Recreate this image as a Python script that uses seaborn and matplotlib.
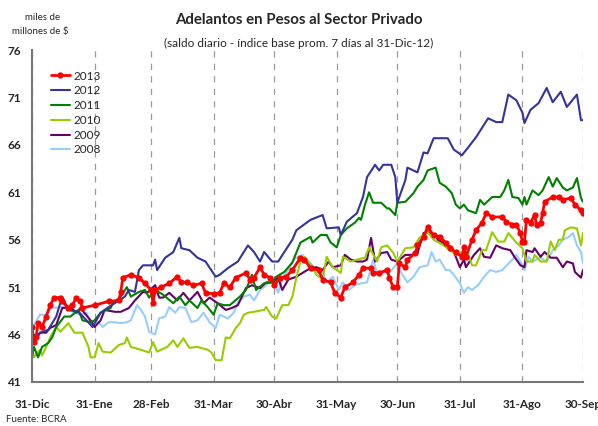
import pandas as pd
import seaborn as sns
from matplotlib import pyplot as plt

# x = days since 31-Dec of previous year
tick_days = [0, 31, 59, 90, 120, 151, 181, 212, 243, 273]
tick_labels = ['31-Dic', '31-Ene', '28-Feb', '31-Mar', '30-Abr', '31-May',
               '30-Jun', '31-Jul', '31-Ago', '30-Sep']

days_2013 = [0, 1, 2, 3, 5, 7, 9, 11, 14, 15,
             18, 20, 22, 24, 25, 31, 38, 43, 44, 45,
             49, 53, 56, 59, 60, 61, 64, 68, 72, 74,
             77, 80, 84, 86, 90, 93, 95, 98, 101, 106,
             108, 110, 113, 115, 118, 120, 123, 126, 129, 133,
             135, 138, 142, 144, 148, 150, 153, 155, 159, 162,
             164, 168, 169, 172, 176, 177, 179, 181, 182, 185,
             186, 190, 191, 194, 196, 199, 202, 205, 207, 210,
             213, 214, 215, 218, 220, 223, 225, 228, 233, 235,
             238, 240, 242, 243, 244, 245, 247, 249, 250, 252,
             253, 254, 258, 261, 263, 267, 269, 272, 273]
vals_2013 = [46.8, 45.2, 45.7, 47.2, 46.8, 47.9, 49.1, 49.9, 49.9, 49.5,
             48.8, 49.1, 49.9, 49.5, 48.8, 49.1, 49.5, 49.6, 50.5, 52.0,
             52.3, 52.0, 51.4, 50.7, 49.3, 50.7, 51.0, 51.4, 52.1, 51.5,
             51.5, 51.2, 51.4, 50.4, 50.3, 50.4, 51.4, 51.0, 52.0, 52.5,
             51.8, 52.0, 53.1, 52.3, 52.0, 51.2, 52.0, 52.1, 52.8, 54.1,
             53.9, 53.0, 52.8, 51.8, 51.5, 50.4, 49.9, 51.0, 51.5, 52.3,
             53.0, 53.0, 52.5, 52.5, 52.8, 52.0, 51.0, 51.0, 53.5, 53.1,
             53.9, 54.6, 55.4, 56.3, 57.3, 56.5, 56.3, 55.7, 55.1, 54.7,
             54.2, 55.2, 54.2, 56.0, 57.0, 57.8, 58.8, 58.4, 58.4, 57.9,
             57.6, 57.6, 56.7, 55.8, 55.8, 58.1, 57.8, 58.6, 57.6, 57.8,
             58.8, 60.0, 60.5, 60.5, 60.2, 60.4, 59.7, 59.1, 58.8]

days_2012 = [0, 1, 4, 8, 12, 15, 18, 23, 27, 30,
             34, 38, 46, 48, 51, 53, 55, 60, 61, 62,
             66, 70, 73, 74, 78, 82, 86, 91, 93, 97,
             102, 107, 110, 113, 115, 119, 122, 125, 129, 131,
             138, 144, 146, 152, 153, 156, 161, 164, 166, 170,
             172, 174, 178, 180, 181, 185, 186, 191, 194, 196,
             199, 206, 209, 213, 216, 220, 226, 230, 233, 236,
             240, 243, 244, 247, 251, 255, 258, 262, 265, 270,
             272, 273]
vals_2012 = [45.5, 45.1, 46.2, 46.5, 47.9, 50.0, 48.6, 48.4, 47.5, 46.8,
             48.3, 48.9, 50.0, 50.7, 50.5, 52.8, 53.3, 53.3, 53.9, 52.8,
             54.1, 54.7, 56.2, 55.1, 54.9, 54.1, 53.7, 52.1, 52.3, 53.0,
             53.7, 55.4, 54.7, 53.7, 54.7, 53.7, 53.7, 54.7, 56.0, 57.0,
             58.1, 58.6, 57.2, 57.3, 56.5, 57.9, 58.8, 60.5, 62.6, 63.9,
             63.3, 63.9, 63.9, 62.6, 59.9, 62.3, 63.6, 63.1, 65.2, 65.1,
             66.7, 66.7, 65.5, 64.9, 65.7, 66.8, 68.8, 68.4, 68.4, 71.3,
             70.7, 69.4, 68.3, 69.7, 70.4, 72.0, 70.5, 71.6, 70.0, 71.3,
             68.6, 68.6]

days_2011 = [0, 1, 3, 5, 8, 10, 12, 16, 19, 23,
             25, 29, 31, 34, 39, 40, 44, 47, 49, 53,
             56, 58, 61, 65, 70, 73, 76, 78, 82, 84,
             87, 90, 92, 95, 98, 103, 106, 109, 111, 115,
             119, 121, 125, 129, 133, 138, 139, 143, 146, 148,
             151, 153, 156, 160, 162, 163, 165, 167, 169, 173,
             176, 177, 180, 181, 185, 189, 191, 194, 196, 200,
             202, 205, 208, 210, 212, 214, 216, 220, 222, 224,
             228, 232, 234, 236, 238, 241, 243, 244, 245, 248,
             251, 253, 256, 258, 260, 263, 265, 268, 270, 272,
             273]
vals_2011 = [43.6, 44.7, 43.6, 44.7, 45.1, 45.7, 46.8, 47.9, 47.9, 48.6,
             47.5, 47.3, 47.5, 48.3, 48.8, 49.3, 50.0, 51.0, 50.0, 50.5,
             50.7, 49.9, 50.7, 50.2, 49.3, 50.0, 49.1, 49.6, 48.8, 49.6,
             48.9, 48.1, 49.3, 49.1, 49.1, 50.0, 50.7, 52.3, 50.7, 51.4,
             51.5, 52.1, 52.6, 53.6, 55.7, 56.3, 55.7, 56.5, 56.5, 55.7,
             55.2, 56.5, 57.2, 57.8, 58.3, 58.1, 59.7, 61.0, 59.9, 59.9,
             59.3, 59.3, 58.6, 59.9, 60.0, 60.9, 61.6, 62.3, 63.3, 63.6,
             62.0, 61.6, 60.9, 59.7, 59.3, 59.7, 59.1, 58.8, 60.2, 59.7,
             60.5, 60.5, 61.2, 62.3, 60.5, 60.4, 59.7, 60.5, 59.7, 61.2,
             60.7, 61.2, 62.6, 61.6, 62.5, 61.5, 61.2, 61.5, 62.5, 60.4,
             60.0]

days_2010 = [0, 1, 4, 5, 7, 9, 12, 14, 18, 21,
             25, 28, 29, 31, 33, 35, 39, 43, 46, 47,
             49, 54, 58, 60, 62, 67, 70, 72, 75, 78,
             82, 87, 89, 91, 94, 96, 98, 101, 103, 105,
             107, 110, 115, 116, 119, 121, 124, 127, 129, 131,
             133, 135, 139, 141, 144, 146, 149, 153, 154, 158,
             161, 165, 167, 171, 173, 176, 179, 181, 185, 189,
             192, 196, 199, 204, 207, 210, 213, 216, 218, 220,
             223, 225, 228, 231, 234, 236, 238, 240, 243, 245,
             248, 249, 252, 255, 257, 259, 261, 263, 264, 267,
             270, 272, 273]
vals_2010 = [44.7, 43.6, 44.4, 43.8, 44.7, 45.7, 46.8, 46.3, 47.2, 46.2,
             46.2, 44.7, 43.6, 43.6, 45.1, 44.2, 44.1, 44.9, 45.1, 45.7,
             44.7, 44.4, 44.1, 45.2, 44.2, 44.7, 45.4, 44.7, 45.6, 44.6,
             44.7, 44.4, 44.1, 43.3, 43.3, 45.7, 45.6, 46.7, 47.2, 48.1,
             48.3, 48.4, 48.6, 48.9, 47.9, 47.7, 49.1, 49.1, 50.0, 52.0,
             53.7, 54.2, 53.1, 52.3, 51.8, 54.2, 53.1, 52.5, 54.2, 53.7,
             53.9, 54.1, 55.2, 53.7, 55.2, 55.4, 54.6, 53.7, 55.1, 55.2,
             56.2, 56.8, 56.0, 55.4, 54.9, 54.4, 54.6, 54.6, 53.3, 53.3,
             54.9, 54.9, 56.8, 55.8, 55.8, 56.7, 56.2, 55.7, 55.1, 53.7,
             53.7, 54.4, 53.7, 53.7, 55.8, 54.9, 56.0, 56.0, 57.0, 57.3,
             57.2, 55.4, 56.7]

days_2009 = [0, 2, 4, 7, 9, 12, 15, 19, 22, 24,
             29, 31, 34, 36, 41, 44, 48, 51, 55, 57,
             61, 63, 65, 68, 72, 75, 78, 82, 85, 88,
             92, 96, 99, 102, 106, 109, 113, 116, 119, 122,
             124, 127, 131, 134, 138, 141, 144, 147, 149, 153,
             155, 158, 161, 164, 166, 168, 170, 173, 176, 178,
             181, 185, 188, 191, 194, 196, 200, 201, 206, 208,
             210, 212, 214, 215, 219, 222, 224, 227, 230, 233,
             237, 239, 242, 244, 245, 248, 249, 252, 254, 257,
             260, 263, 265, 268, 269, 272, 273]
vals_2009 = [46.2, 45.7, 46.2, 46.2, 46.7, 47.0, 48.8, 48.9, 48.3, 48.8,
             47.5, 46.8, 47.5, 48.6, 48.4, 48.4, 48.8, 49.6, 50.5, 50.4,
             51.2, 49.9, 49.9, 50.4, 49.6, 50.4, 49.6, 50.5, 49.3, 49.9,
             49.3, 48.6, 48.8, 49.1, 50.9, 51.2, 50.9, 51.5, 51.5, 52.0,
             50.7, 51.8, 52.1, 52.5, 53.0, 53.1, 52.8, 53.7, 53.1, 53.3,
             54.4, 53.9, 53.7, 53.7, 53.9, 56.2, 53.7, 54.6, 54.7, 53.9,
             53.7, 54.4, 54.4, 54.6, 56.7, 56.8, 56.5, 56.0, 55.4, 55.2,
             54.2, 53.1, 53.9, 53.1, 54.4, 55.1, 54.2, 54.1, 55.4, 55.1,
             54.9, 54.2, 53.3, 53.1, 54.9, 54.7, 55.1, 54.2, 54.7, 54.1,
             54.1, 53.1, 53.7, 53.5, 52.6, 52.0, 52.8]

days_2008 = [0, 1, 4, 7, 10, 14, 17, 21, 24, 27,
             29, 33, 35, 38, 41, 44, 47, 49, 52, 54,
             56, 58, 61, 63, 66, 68, 71, 73, 76, 79,
             82, 85, 88, 91, 93, 97, 100, 102, 105, 108,
             110, 113, 116, 119, 122, 124, 127, 130, 134, 137,
             140, 144, 146, 149, 152, 154, 157, 160, 163, 166,
             169, 171, 175, 177, 181, 183, 186, 189, 192, 196,
             198, 200, 202, 205, 207, 210, 212, 214, 216, 218,
             221, 224, 227, 230, 233, 238, 240, 243, 244, 246,
             248, 252, 255, 258, 261, 263, 266, 268, 270, 272,
             273]
vals_2008 = [45.7, 47.0, 48.1, 48.1, 48.8, 48.9, 48.8, 48.3, 48.1, 48.3,
             47.3, 47.3, 46.8, 47.3, 47.3, 47.2, 47.3, 47.5, 49.1, 48.6,
             47.9, 46.3, 46.0, 47.7, 47.9, 48.9, 48.3, 48.9, 48.8, 47.3,
             47.5, 48.3, 47.3, 46.7, 48.1, 47.7, 48.3, 49.4, 50.0, 50.2,
             49.6, 50.7, 51.2, 52.0, 50.4, 52.0, 52.8, 54.0, 54.4, 53.7,
             53.1, 52.5, 51.5, 52.1, 50.7, 51.5, 50.7, 51.2, 51.4, 51.5,
             53.9, 52.5, 52.6, 52.5, 53.5, 52.5, 51.5, 52.1, 53.1, 53.3,
             54.7, 53.7, 53.9, 52.8, 52.8, 52.0, 51.4, 50.4, 51.0, 50.7,
             51.2, 52.1, 52.8, 52.6, 52.8, 53.9, 54.4, 53.3, 52.8, 54.2,
             53.7, 54.1, 53.7, 54.9, 55.4, 56.0, 56.3, 56.7, 55.4, 54.7,
             53.5]

series = [
    ('2008', days_2008, vals_2008, '#99CCFF'),
    ('2009', days_2009, vals_2009, '#660066'),
    ('2010', days_2010, vals_2010, '#99CC00'),
    ('2011', days_2011, vals_2011, '#008000'),
    ('2012', days_2012, vals_2012, '#333399'),
    ('2013', days_2013, vals_2013, '#FF0000'),
]

sns.set_style('white')
plt.rcParams['font.family'] = ['Lato', 'DejaVu Sans']

fig = plt.figure(figsize=(5.98, 4.26), dpi=100)
ax = fig.add_axes([0.0535, 0.1033, 0.9214, 0.7793])

for name, d, v, color in series:
    df = pd.DataFrame({'day': d, 'value': v})
    if name == '2013':
        sns.lineplot(data=df, x='day', y='value', ax=ax, color=color, lw=2,
                     marker='o', markersize=4.5, markeredgewidth=0, label=name)
    else:
        sns.lineplot(data=df, x='day', y='value', ax=ax, color=color, lw=1.5,
                     label=name)

ax.set_xlim(0, 273)
ax.set_ylim(41, 76)
ax.set_yticks(range(41, 77, 5))
ax.set_xticks(tick_days)
ax.set_xticklabels(tick_labels)
ax.set_xlabel('')
ax.set_ylabel('')

for lab in ax.get_xticklabels() + ax.get_yticklabels():
    lab.set_fontweight('bold')
    lab.set_fontsize(8.5)
ax.tick_params(axis='x', direction='out', length=4, pad=8, color='#555555')
ax.tick_params(axis='y', direction='out', length=4, pad=4, color='#555555')

ax.grid(axis='x', color='#9a9a9a', linestyle=(0, (5, 5)), lw=0.9)
ax.grid(axis='y', visible=False)
for side in ['top', 'right']:
    ax.spines[side].set_visible(False)
for side in ['left', 'bottom']:
    ax.spines[side].set_color('#777777')
    ax.spines[side].set_linewidth(1.5)

handles, labels = ax.get_legend_handles_labels()
ax.legend(handles[::-1], labels[::-1], loc='upper left',
          bbox_to_anchor=(0.015, 0.97), frameon=False, fontsize=8.5,
          handlelength=1.6, handletextpad=0.3, labelspacing=0.32)

fig.text(0.5, 0.953, 'Adelantos en Pesos al Sector Privado', ha='center',
         va='center', fontsize=10.8, fontweight='bold')
fig.text(0.5, 0.898, '(saldo diario - índice base prom. 7 días al 31-Dic-12)',
         ha='center', va='center', fontsize=8.5)
fig.text(0.072, 0.96, 'miles de', ha='center', va='center', fontsize=7)
fig.text(0.067, 0.925, 'millones de $', ha='center', va='center', fontsize=7)
fig.text(0.01, 0.004, 'Fuente: BCRA', ha='left', va='bottom', fontsize=7)

fig.savefig('out.png', dpi=100)
